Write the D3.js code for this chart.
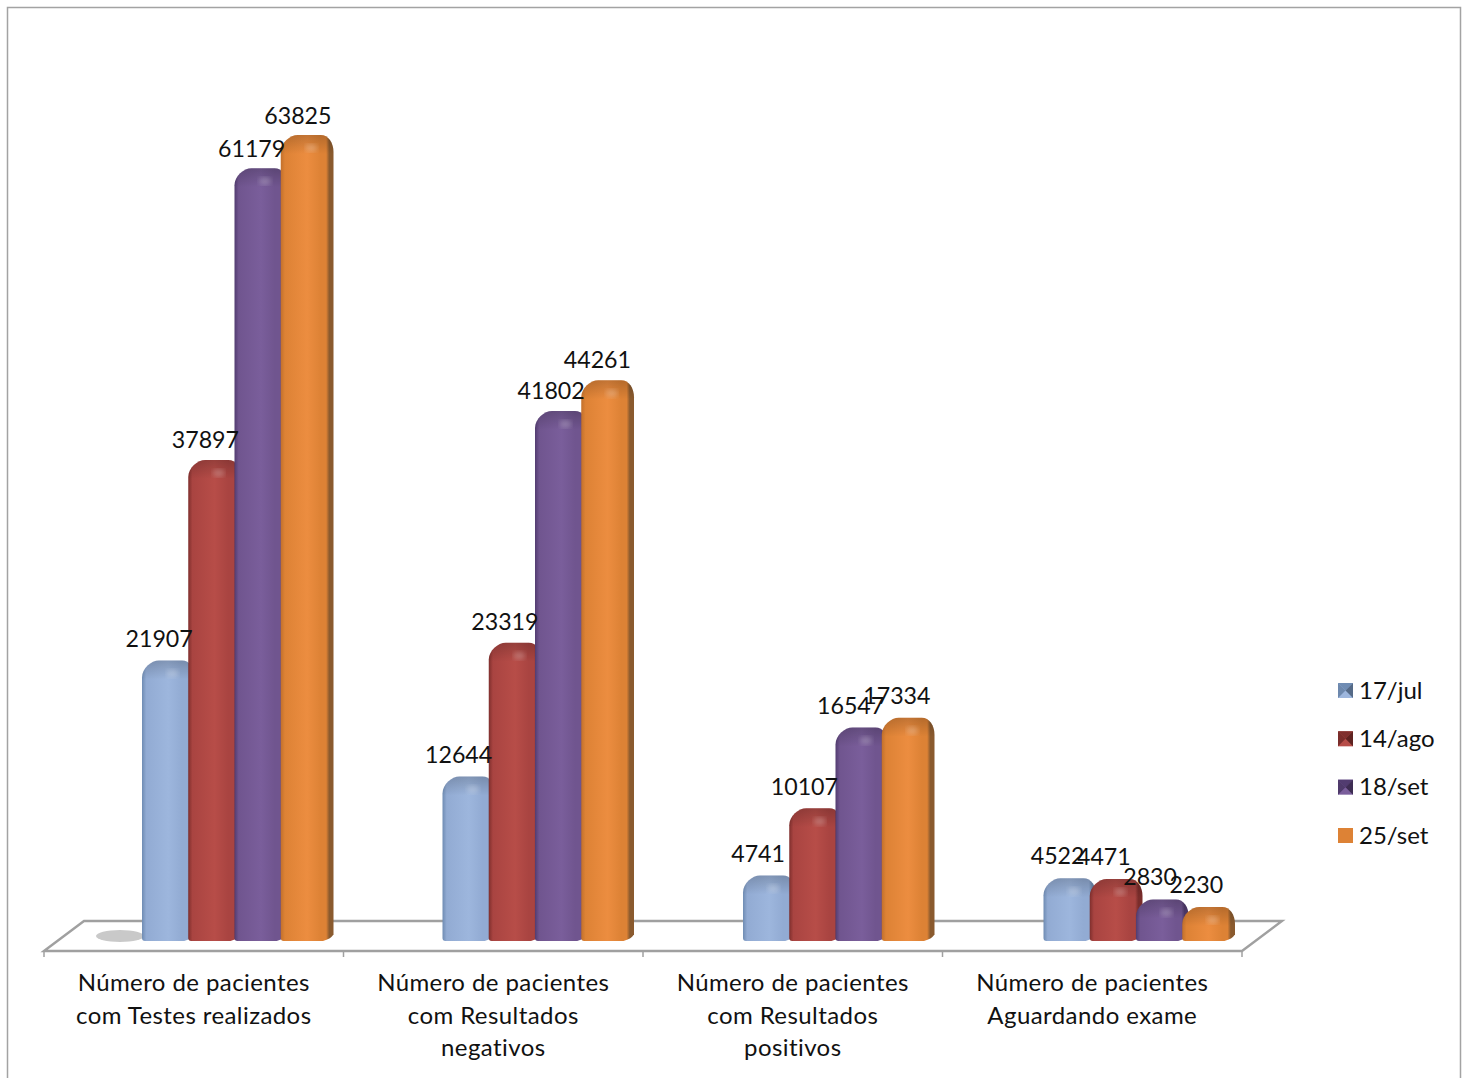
<!DOCTYPE html>
<html lang="en">
<head>
<meta charset="UTF-8"/>
<title>Pacientes</title>
<script src="https://d3js.org/d3.v7.min.js"></script>
<style>
  html, body { margin: 0; padding: 0; background: #fff; overflow: hidden; }
  text { font-family: Lato, "Open Sans", sans-serif; fill: #111; }
</style>
</head>
<body>
<script>
// chart data
var categories = [
    "Número de pacientes com Testes realizados",
    "Número de pacientes com Resultados negativos",
    "Número de pacientes com Resultados positivos",
    "Número de pacientes Aguardando exame"
];
var categoryLines = [
    ["Número de pacientes", "com Testes realizados"],
    ["Número de pacientes", "com Resultados", "negativos"],
    ["Número de pacientes", "com Resultados", "positivos"],
    ["Número de pacientes", "Aguardando exame"]
];
var seriesNames = ["17/jul", "14/ago", "18/set", "25/set"];
var jul17 = [21907, 12644, 4741, 4522];
var ago14 = [37897, 23319, 10107, 4471];
var set18 = [61179, 41802, 16547, 2830];
var set25 = [63825, 44261, 17334, 2230];
var seriesValues = [jul17, ago14, set18, set25];

// colours per series: dark edge, main, light middle, side face
var edgeColors  = ["#6f8cb3", "#7f2f2d", "#523c70", "#c2702c"];
var mainColors  = ["#92abd3", "#a94441", "#70558f", "#dd8235"];
var lightColors = ["#9db6dd", "#b74d48", "#7a5e9b", "#ec8d40"];
var sideColors  = ["#6d88ad", "#7a2d2b", "#4f3a6b", "#8a5a2e"];

var w = 1464, h = 1078;
var floorFront = 951, floorBack = 921, floorShift = 40;
var barBottom = 941, depth = 6.5;

var svg = d3.select("body").append("svg")
    .attr("width", w)
    .attr("height", h)
    .style("display", "block");

// chart frame, its bottom edge falls off the page
svg.append("rect")
    .attr("x", 7.5).attr("y", 7.5)
    .attr("width", 1453).attr("height", 1090)
    .attr("fill", "#fff")
    .attr("stroke", "#a3a3a3")
    .attr("stroke-width", 1.5);

// the axis runs along the front of the floor, the bars stand a bit wider apart (3d view)
var x0 = d3.scaleBand().domain(categories).range([44, 1242]);
var xBars = d3.scaleBand().domain(categories).range([44, 1246]);
var x1 = d3.scaleBand().domain(seriesNames).range([98, 283]);
var y = d3.scaleLinear().domain([0, 63825]).range([935, 135]);
var yLabel = d3.scaleLinear().domain([0, 63825]).range([920.8, 124]);

// gradients
var defs = svg.append("defs");
seriesNames.forEach(function(name, i) {
    var g = defs.append("linearGradient").attr("id", "body" + i);
    [[0, edgeColors[i]], [0.08, mainColors[i]], [0.5, lightColors[i]],
     [0.76, mainColors[i]], [0.86, mainColors[i]], [0.92, sideColors[i]], [1, sideColors[i]]]
        .forEach(function(s) {
            g.append("stop").attr("offset", s[0]).attr("stop-color", s[1]);
        });
});
var cap = defs.append("linearGradient").attr("id", "cap")
    .attr("x1", 0).attr("x2", 0).attr("y1", 0).attr("y2", 1);
cap.append("stop").attr("offset", 0).attr("stop-color", "#000").attr("stop-opacity", 0.18);
cap.append("stop").attr("offset", 1).attr("stop-color", "#000").attr("stop-opacity", 0);
defs.append("filter").attr("id", "soft")
    .append("feGaussianBlur").attr("stdDeviation", 2.5);

// floor
var left = x0.range()[0], right = x0.range()[1];
svg.append("path")
    .attr("d", "M" + left + "," + floorFront + "L" + (left + floorShift) + "," + floorBack +
               "L" + (right + floorShift) + "," + floorBack + "L" + right + "," + floorFront + "Z")
    .attr("fill", "#fff")
    .attr("stroke", "#a0a0a0")
    .attr("stroke-width", 2.4);

// shadow left of the first group
svg.append("ellipse")
    .attr("cx", xBars(categories[0]) + 76)
    .attr("cy", 936)
    .attr("rx", 24)
    .attr("ry", 6)
    .attr("fill", "#c9c9c9");

// x axis: ticks sit on the band edges, labels under the band centres
var xAxis = d3.axisBottom(x0).tickSize(0).tickPadding(0).tickFormat("");
var axisG = svg.append("g")
    .attr("transform", "translate(0," + floorFront + ")")
    .call(xAxis);
axisG.select(".domain").remove();

axisG.selectAll("line.edge")
    .data(d3.range(categories.length + 1))
    .enter().append("line")
    .attr("class", "edge")
    .attr("x1", function(d) { return left + d * x0.step(); })
    .attr("x2", function(d) { return left + d * x0.step(); })
    .attr("y1", 0)
    .attr("y2", 6)
    .attr("stroke", "#a0a0a0")
    .attr("stroke-width", 1.5);

axisG.selectAll(".tick text").each(function(d, i) {
    var t = d3.select(this).text(null)
        .attr("y", 0).attr("dy", null)
        .attr("text-anchor", "middle")
        .style("font-size", "24px")
        .style("letter-spacing", "0.42px");
    categoryLines[i].forEach(function(line, k) {
        t.append("tspan").attr("x", 0).attr("y", 40 + k * 32.5).text(line);
    });
});

// top outline shared by the bar and its cap shading
function topEdge(x, top, bw) {
    var ry = Math.min(17, (barBottom - top) * 0.5);
    var rx = Math.min(17, bw * 0.4);
    var xr = x + bw + depth;
    return "L" + x + "," + (top + ry) +
        "C" + x + "," + (top + ry * 0.45) + " " + (x + rx * 0.55) + "," + top + " " + (x + rx) + "," + top +
        "L" + (xr - rx * 0.75) + "," + top +
        "C" + (xr - rx * 0.3) + "," + top + " " + xr + "," + (top + ry * 0.45) + " " + xr + "," + (top + ry);
}

// bar outline: rounded top, soft chamfer bottom right
function barPath(x, top, bw) {
    var xr = x + bw + depth;
    return "M" + (x + 3) + "," + barBottom +
        "Q" + x + "," + barBottom + " " + x + "," + (barBottom - 3) +
        topEdge(x, top, bw) +
        "L" + xr + "," + (barBottom - depth) +
        "Q" + (xr - 3) + "," + (barBottom - 2) + " " + (xr - depth - 4) + "," + barBottom + "Z";
}
function capPath(x, top, bw) {
    var ry = Math.min(17, (barBottom - top) * 0.5);
    var xr = x + bw + depth;
    return "M" + x + "," + (top + ry + 2) + topEdge(x, top, bw) +
        "L" + xr + "," + (top + ry + 2) + "Z";
}

// bars, one group per category, later series on top of earlier ones
var bw = x1.bandwidth();
categories.forEach(function(cat, c) {
    var g = svg.append("g").attr("transform", "translate(" + xBars(cat) + ",0)");
    seriesNames.forEach(function(name, s) {
        var v = seriesValues[s][c];
        var bx = x1(name), top = y(v);
        g.append("path").attr("d", barPath(bx, top, bw)).attr("fill", "url(#body" + s + ")");
        g.append("path").attr("d", capPath(bx, top, bw)).attr("fill", "url(#cap)");
        g.append("ellipse")
            .attr("cx", bx + bw * 0.66)
            .attr("cy", top + Math.min(13, (barBottom - top) * 0.4))
            .attr("rx", 6).attr("ry", 4)
            .attr("fill", "#fff").attr("opacity", 0.22)
            .attr("filter", "url(#soft)");
    });
});

// value labels on top of all the bars
categories.forEach(function(cat, c) {
    seriesNames.forEach(function(name, s) {
        var v = seriesValues[s][c];
        svg.append("text")
            .attr("x", x0(cat) + x1(name) + bw / 2 - 6)
            .attr("y", yLabel(v))
            .attr("text-anchor", "middle")
            .style("font-size", "23.2px")
            .text(v);
    });
});

// legend
var legendY = d3.scalePoint().domain(seriesNames).range([690.5, 835.5]);
seriesNames.forEach(function(name, i) {
    var ly = legendY(name), lx = 1338, s = 15, cx = lx + s / 2;
    var g = svg.append("g");
    g.append("rect")
        .attr("x", lx).attr("y", ly - s / 2)
        .attr("width", s).attr("height", s)
        .attr("fill", i < 3 ? lightColors[i] : mainColors[i]);
    if (i < 3) {
        // bevelled key for the first three series
        var t = ly - s / 2, b = ly + s / 2, r = lx + s;
        g.append("path")
            .attr("d", "M" + lx + "," + t + "L" + r + "," + t + "L" + cx + "," + ly + "Z")
            .attr("fill", edgeColors[i]);
        g.append("path")
            .attr("d", "M" + lx + "," + t + "L" + lx + "," + b + "L" + cx + "," + ly + "Z")
            .attr("fill", sideColors[i]);
        g.append("path")
            .attr("d", "M" + r + "," + t + "L" + r + "," + b + "L" + cx + "," + ly + "Z")
            .attr("fill", d3.color(sideColors[i]).darker(0.7));
    }
    svg.append("text")
        .attr("x", 1359)
        .attr("y", ly + 8)
        .style("font-size", "24px")
        .text(name);
});
</script>
</body>
</html>
